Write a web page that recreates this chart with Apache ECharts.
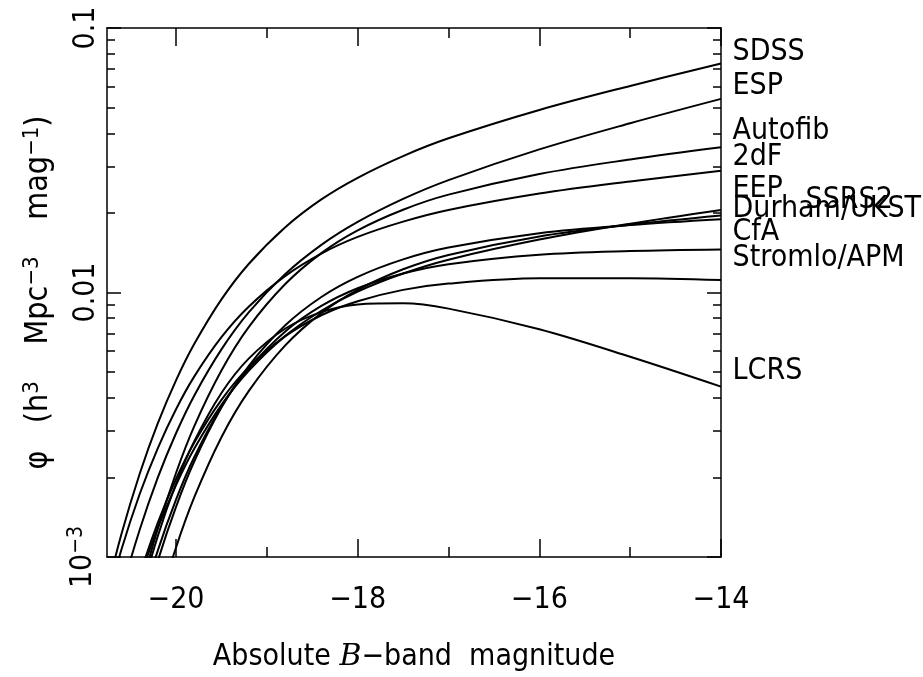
<!DOCTYPE html>
<html><head><meta charset="utf-8">
<script src="https://cdn.jsdelivr.net/npm/echarts@6/dist/echarts.min.js"></script>
<style>html,body{margin:0;padding:0;background:#fff;}#c{width:923px;height:677px;}</style>
</head><body><div id="c"></div>
<script>
// Absolute magnitudes at which the curves were read
const mags = [-20.8,-20.6,-20.4,-20.2,-20.0,-19.8,-19.5,-19.2,-18.8,-18.4,-18.0,-17.5,-17.0,-16.0,-15.0,-14.0];
// phi values (h^3 Mpc^-3 mag^-1)
const sdss    = [6.59e-4,1.224e-3,2.065e-3,3.206e-3,4.654e-3,6.382e-3,9.419e-3,0.01282,0.01762,0.02249,0.02715,0.0328,0.03828,0.04898,0.0604,0.07346];
const esp     = [3.90e-4,7.40e-4,1.267e-3,2.0e-3,2.937e-3,4.074e-3,6.095e-3,8.414e-3,0.01172,0.01514,0.01849,0.02259,0.02661,0.03475,0.04365,0.05395];
const autofib = [1.59e-4,3.63e-4,7.22e-4,1.285e-3,2.078e-3,3.119e-3,5.07e-3,7.396e-3,0.01074,0.01409,0.01718,0.02056,0.02344,0.02805,0.03184,0.0354];
const twodf   = [6.03e-4,1.069e-3,1.73e-3,2.582e-3,3.62e-3,4.808e-3,6.776e-3,8.831e-3,0.01153,0.01403,0.01622,0.01853,0.02051,0.02366,0.0263,0.02884];
const eep     = [6.68e-5,1.637e-4,3.46e-4,6.46e-4,1.086e-3,1.679e-3,2.838e-3,4.236e-3,6.295e-3,8.356e-3,0.01023,0.01224,0.01387,0.01629,0.01803,0.01954];
const ssrs2   = [2.58e-4,4.86e-4,8.26e-4,1.288e-3,1.87e-3,2.564e-3,3.758e-3,5.058e-3,6.84e-3,8.531e-3,0.01009,0.0118,0.01331,0.01585,0.0182,0.02051];
const durham  = [1.24e-4,2.79e-4,5.51e-4,9.68e-4,1.548e-3,2.296e-3,3.673e-3,5.272e-3,7.499e-3,9.616e-3,0.01146,0.01334,0.01479,0.01675,0.01799,0.01892];
const cfa     = [1.52e-4,3.28e-4,6.22e-4,1.059e-3,1.648e-3,2.383e-3,3.698e-3,5.152e-3,7.112e-3,8.895e-3,0.01038,0.0118,0.0128,0.0139,0.01435,0.01455];
const stromlo = [2.53e-4,4.92e-4,8.53e-4,1.349e-3,1.972e-3,2.704e-3,3.927e-3,5.212e-3,6.823e-3,8.204e-3,9.268e-3,0.01023,0.01081,0.01132,0.01132,0.01114];
const lcrs    = [1.53e-4,3.50e-4,6.90e-4,1.202e-3,1.892e-3,2.735e-3,4.169e-3,5.623e-3,7.295e-3,8.433e-3,9.016e-3,9.099e-3,8.69e-3,7.261e-3,5.715e-3,4.406e-3];

const surveyNames = ['SDSS','ESP','Autofib','2dF','EEP','SSRS2','Durham/UKST','CfA','Stromlo/APM','LCRS'];
const surveyCurves = [sdss, esp, autofib, twodf, eep, ssrs2, durham, cfa, stromlo, lcrs];
// phi level at which each survey name is written (right of the plot)
const labelPhi = [0.0813,0.0600,0.0408,0.0324,0.0246,0.02237,0.0207,0.01686,0.0135,0.00502];

// axis ticks
const xMin = -20.76, xMax = -14;
const xMajorTicks = [-20,-18,-16,-14];
const xMinorTicks = [-19,-17,-15];
const yMin = 0.001, yMax = 0.1;
const yMinorTicks = [0.002,0.003,0.004,0.005,0.006,0.007,0.008,0.009,0.02,0.03,0.04,0.05,0.06,0.07,0.08,0.09];

const FONT = "'DejaVu Sans Condensed','DejaVu Sans',sans-serif";
const BLACK = '#000';
const MINUS = '\u2212';

const chart = echarts.init(document.getElementById('c'), null, {renderer:'canvas'});

const tickLine = {color: BLACK, width: 1.5};
const noSplit = {show:false};

function xTickAxis(pos, values, len, showLine) {
  return {type:'value', min:xMin, max:xMax, position:pos,
    axisLine:{show:showLine, onZero:false, lineStyle:{color:BLACK, width:1.5}},
    axisTick:{show:true, inside:true, length:len, customValues:values, lineStyle:tickLine},
    axisLabel:{show:false}, splitLine:noSplit};
}
function yMinorAxis(pos) {
  return {type:'value', min:Math.log10(yMin), max:Math.log10(yMax), position:pos,
    axisLine:{show:false, onZero:false},
    axisTick:{show:true, inside:true, length:8, customValues:yMinorTicks.map(v=>Math.log10(v)), lineStyle:tickLine},
    axisLabel:{show:false}, splitLine:noSplit};
}

const series = surveyCurves.map((arr, i) => ({
  name: surveyNames[i], type:'line', xAxisIndex:0, yAxisIndex:0,
  data: mags.map((m, j) => [m, arr[j]]),
  smooth: 0.35, symbol:'none', clip:true,
  lineStyle:{color:BLACK, width:2}, z:5
}));

series.push({
  type:'scatter', xAxisIndex:0, yAxisIndex:0, clip:false, symbolSize:1, silent:true,
  itemStyle:{color:'rgba(0,0,0,0)'},
  data: labelPhi.map((v, i) => ({
    value:[xMax, v],
    label:{show:true, position:'right', distance: surveyNames[i]==='SSRS2' ? 84 : 11,
      formatter: surveyNames[i], fontFamily:FONT, fontSize:30, color:BLACK, opacity:1, textBorderWidth:0}
  })),
  z:10
});

chart.setOption({
  animation:false,
  backgroundColor:'#fff',
  grid:{left:107, right:202, top:28, bottom:120, containLabel:false, outerBoundsMode:'none'},
  xAxis:[
    {type:'value', min:xMin, max:xMax, position:'bottom',
     name:'Absolute {i|B}' + MINUS + 'band  magnitude', nameLocation:'middle', nameGap:85,
     nameMoveOverlap:false,
     nameTextStyle:{fontFamily:FONT, fontSize:30, color:BLACK,
       rich:{i:{fontFamily:"'DejaVu Serif',serif", fontStyle:'italic', fontSize:30, color:BLACK}}},
     axisLine:{show:true, onZero:false, lineStyle:{color:BLACK, width:1.5}},
     axisTick:{show:true, inside:true, length:18, customValues:xMajorTicks, lineStyle:tickLine},
     axisLabel:{show:true, customValues:xMajorTicks, margin:28, fontFamily:FONT, fontSize:30, color:BLACK,
       formatter: v => (v < 0 ? MINUS : '') + Math.abs(Math.round(v))},
     splitLine:noSplit},
    xTickAxis('bottom', xMinorTicks, 10, false),
    xTickAxis('top', xMajorTicks, 18, true),
    xTickAxis('top', xMinorTicks, 10, false)
  ],
  yAxis:[
    {type:'log', logBase:10, min:yMin, max:yMax, position:'left',
     name:'\u03c6   (h{s|3}    Mpc{s|' + MINUS + '3}    mag{s|' + MINUS + '1})', nameLocation:'middle', nameGap:50,
     nameMoveOverlap:false,
     nameTextStyle:{fontFamily:FONT, fontSize:32, color:BLACK,
       rich:{s:{fontFamily:FONT, fontSize:22, color:BLACK, verticalAlign:'top', padding:[0,0,14,0]}}},
     axisLine:{show:true, onZero:false, lineStyle:{color:BLACK, width:1.5}},
     axisTick:{show:true, inside:true, length:14, lineStyle:tickLine},
     axisLabel:{show:true, rotate:90, margin:6, fontFamily:FONT, fontSize:30, color:BLACK,
       formatter: v => { const e = Math.round(Math.log10(v)); return e === -1 ? '0.1' : e === -2 ? '0.01' : '10{s|' + MINUS + '3}'; },
       rich:{s:{fontFamily:FONT, fontSize:21, color:BLACK, verticalAlign:'top', padding:[0,0,14,0]}}},
     splitLine:noSplit},
    yMinorAxis('left'),
    {type:'log', logBase:10, min:yMin, max:yMax, position:'right',
     axisLine:{show:true, onZero:false, lineStyle:{color:BLACK, width:1.5}},
     axisTick:{show:true, inside:true, length:14, lineStyle:tickLine},
     axisLabel:{show:false}, splitLine:noSplit},
    yMinorAxis('right')
  ],
  series: series
});
</script>
</body></html>
